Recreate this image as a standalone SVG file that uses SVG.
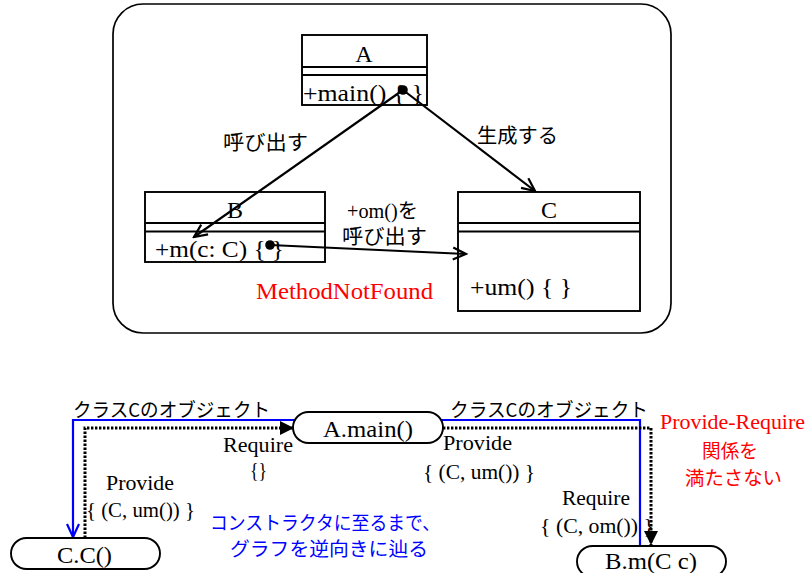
<svg xmlns="http://www.w3.org/2000/svg" width="809" height="573" viewBox="0 0 809 573">
<defs>
<style>
.box{fill:#fff;stroke:#000;stroke-width:1.9}
.frame{fill:#fff;stroke:#000;stroke-width:1.7}
.sf{font-family:"Liberation Serif","Times New Roman","Noto Sans CJK JP",serif;fill:#000}
.jp{font-family:"Noto Sans CJK JP",sans-serif;fill:#000}
.red{fill:#ff0000}
.blue{fill:#0000ff}
.conn{fill:none;stroke:#000;stroke-width:2.2}
.dot{fill:none;stroke:#000;stroke-width:3;stroke-dasharray:2.4 1.6}
.bl{fill:none;stroke:#0000ff;stroke-width:2.2}
</style>
<marker id="open" markerUnits="userSpaceOnUse" markerWidth="16" markerHeight="16" refX="14" refY="7" orient="auto" viewBox="0 0 16 14">
<path d="M1,1 L14,7 L1,13" fill="none" stroke="#000" stroke-width="2.2"/>
</marker>
<marker id="openb" markerUnits="userSpaceOnUse" markerWidth="16" markerHeight="16" refX="14" refY="7" orient="auto" viewBox="0 0 16 14">
<path d="M1,1 L14,7 L1,13" fill="none" stroke="#0000ff" stroke-width="2.2"/>
</marker>
<marker id="tri" markerUnits="userSpaceOnUse" markerWidth="14" markerHeight="14" refX="14" refY="7" orient="auto" viewBox="0 0 14 14">
<path d="M0,0 L14,7 L0,14 z" fill="#000"/>
</marker>
</defs>

<rect id="frame" class="frame" x="113" y="4" width="558" height="329" rx="30"/>

<g id="classA">
<rect class="box" x="302" y="35" width="125" height="70"/>
<line class="box" x1="302" y1="67" x2="427" y2="67"/>
<line class="box" x1="302" y1="75" x2="427" y2="75"/>
<text class="sf" x="364" y="62" font-size="24" text-anchor="middle">A</text>
<text class="sf" x="303" y="101" font-size="23" textLength="121" lengthAdjust="spacingAndGlyphs">+main() {   }</text>
</g>

<g id="classB">
<rect class="box" x="145" y="192" width="180" height="70"/>
<line class="box" x1="145" y1="223" x2="325" y2="223"/>
<line class="box" x1="145" y1="231.5" x2="325" y2="231.5"/>
<text class="sf" x="235" y="218" font-size="24" text-anchor="middle">B</text>
<text class="sf" x="155" y="257" font-size="23" textLength="129" lengthAdjust="spacingAndGlyphs">+m(c: C) {  }</text>
</g>

<g id="classC">
<rect class="box" x="458" y="192" width="182" height="119"/>
<line class="box" x1="458" y1="223" x2="640" y2="223"/>
<line class="box" x1="458" y1="231.5" x2="640" y2="231.5"/>
<text class="sf" x="549" y="218" font-size="24" text-anchor="middle">C</text>
<text class="sf" x="470" y="295" font-size="23" textLength="102" lengthAdjust="spacingAndGlyphs">+um() {   }</text>
</g>

<g id="connectors">
<line class="conn" x1="403" y1="90" x2="194" y2="237" marker-end="url(#open)"/>
<line class="conn" x1="403" y1="90" x2="535" y2="191" marker-end="url(#open)"/>
<line class="conn" x1="270" y1="245" x2="466" y2="254" marker-end="url(#open)"/>
<circle cx="403" cy="90" r="4.8" fill="#000"/>
<circle cx="270" cy="245" r="4.8" fill="#000"/>
<path class="bl" d="M640,546 V420 H73 V537" marker-end="url(#openb)"/>
<path class="dot" d="M85,538 V428 H294" marker-end="url(#tri)"/>
<path class="dot" d="M443,428 H651 V545" marker-end="url(#tri)"/>
</g>

<g id="labels">
<text class="jp" x="223" y="150" font-size="20" textLength="85" lengthAdjust="spacingAndGlyphs">呼び出す</text>
<text class="jp" x="477" y="143" font-size="20" textLength="81" lengthAdjust="spacingAndGlyphs">生成する</text>
<text class="sf" x="347" y="218" font-size="20" textLength="71" lengthAdjust="spacingAndGlyphs">+om()を</text>
<text class="jp" x="342" y="244" font-size="20" textLength="85" lengthAdjust="spacingAndGlyphs">呼び出す</text>
<text class="sf red" x="256" y="299" font-size="23" textLength="177" lengthAdjust="spacingAndGlyphs">MethodNotFound</text>

<text class="jp" x="73" y="417" font-size="19" textLength="197" lengthAdjust="spacingAndGlyphs">クラスCのオブジェクト</text>
<text class="jp" x="450" y="417" font-size="19" textLength="198" lengthAdjust="spacingAndGlyphs">クラスCのオブジェクト</text>
<text class="sf" x="223" y="452" font-size="21" textLength="70" lengthAdjust="spacingAndGlyphs">Require</text>
<text class="sf" x="250" y="477" font-size="21" textLength="17" lengthAdjust="spacingAndGlyphs">{}</text>
<text class="sf" x="106" y="490" font-size="21" textLength="68" lengthAdjust="spacingAndGlyphs">Provide</text>
<text class="sf" x="86" y="517" font-size="21" textLength="109" lengthAdjust="spacingAndGlyphs">{ (C, um()) }</text>
<text class="sf" x="443" y="450" font-size="21" textLength="69" lengthAdjust="spacingAndGlyphs">Provide</text>
<text class="sf" x="423" y="479" font-size="21" textLength="112" lengthAdjust="spacingAndGlyphs">{ (C, um()) }</text>
<text class="sf" x="562" y="505" font-size="21" textLength="68" lengthAdjust="spacingAndGlyphs">Require</text>
<text class="sf" x="540" y="533" font-size="21" textLength="114" lengthAdjust="spacingAndGlyphs">{ (C, om()) }</text>
<text class="sf red" x="660" y="429" font-size="21" textLength="145" lengthAdjust="spacingAndGlyphs">Provide-Require</text>
<text class="jp red" x="702" y="458" font-size="19.5" textLength="56" lengthAdjust="spacingAndGlyphs">関係を</text>
<text class="jp red" x="685" y="485" font-size="19.5" textLength="97" lengthAdjust="spacingAndGlyphs">満たさない</text>
<text class="jp blue" x="210" y="530" font-size="19" textLength="230" lengthAdjust="spacingAndGlyphs">コンストラクタに至るまで、</text>
<text class="jp blue" x="230" y="556" font-size="19" textLength="198" lengthAdjust="spacingAndGlyphs">グラフを逆向きに辿る</text>
</g>

<g id="nodeAmain">
<rect class="box" x="293" y="412" width="150" height="31" rx="15.5"/>
<text class="sf" x="323" y="437" font-size="23" textLength="90" lengthAdjust="spacingAndGlyphs">A.main()</text>
</g>
<g id="nodeCC">
<rect class="box" x="11" y="538" width="149" height="31" rx="15.5"/>
<text class="sf" x="57" y="563" font-size="23" textLength="55" lengthAdjust="spacingAndGlyphs">C.C()</text>
</g>
<g id="nodeBm">
<rect class="box" x="577" y="546" width="149" height="31" rx="15.5"/>
<text class="sf" x="605" y="569" font-size="23" textLength="92" lengthAdjust="spacingAndGlyphs">B.m(C c)</text>
</g>
</svg>
